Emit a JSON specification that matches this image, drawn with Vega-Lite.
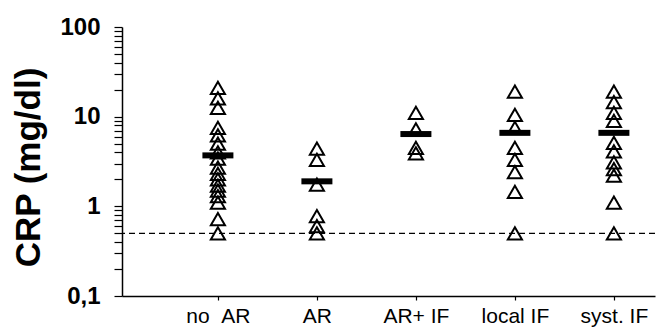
{
  "$schema": "https://vega.github.io/schema/vega-lite/v6.json",
  "width": 533,
  "height": 269,
  "autosize": "none",
  "padding": {"left": 122, "top": 27, "right": 8, "bottom": 36},
  "background": "white",
  "config": {"view": {"stroke": null}, "font": "Liberation Sans"},
  "datasets": {
    "pts": [
      {"group": "no\u00a0\u00a0AR", "crp": 21}, {"group": "no\u00a0\u00a0AR", "crp": 16}, {"group": "no\u00a0\u00a0AR", "crp": 12.5},
      {"group": "no\u00a0\u00a0AR", "crp": 7.5}, {"group": "no\u00a0\u00a0AR", "crp": 6.2}, {"group": "no\u00a0\u00a0AR", "crp": 5.0},
      {"group": "no\u00a0\u00a0AR", "crp": 4.0}, {"group": "no\u00a0\u00a0AR", "crp": 3.4}, {"group": "no\u00a0\u00a0AR", "crp": 2.7},
      {"group": "no\u00a0\u00a0AR", "crp": 2.3}, {"group": "no\u00a0\u00a0AR", "crp": 2.0}, {"group": "no\u00a0\u00a0AR", "crp": 1.7},
      {"group": "no\u00a0\u00a0AR", "crp": 1.5}, {"group": "no\u00a0\u00a0AR", "crp": 1.3}, {"group": "no\u00a0\u00a0AR", "crp": 1.1},
      {"group": "no\u00a0\u00a0AR", "crp": 0.72}, {"group": "no\u00a0\u00a0AR", "crp": 0.5},
      {"group": "AR", "crp": 4.4}, {"group": "AR", "crp": 3.3}, {"group": "AR", "crp": 1.75},
      {"group": "AR", "crp": 0.78}, {"group": "AR", "crp": 0.6}, {"group": "AR", "crp": 0.5},
      {"group": "AR+ IF", "crp": 11}, {"group": "AR+ IF", "crp": 7.2}, {"group": "AR+ IF", "crp": 4.5}, {"group": "AR+ IF", "crp": 3.9},
      {"group": "local IF", "crp": 19}, {"group": "local IF", "crp": 10.5}, {"group": "local IF", "crp": 7.5},
      {"group": "local IF", "crp": 4.5}, {"group": "local IF", "crp": 3.3}, {"group": "local IF", "crp": 2.4},
      {"group": "local IF", "crp": 1.45}, {"group": "local IF", "crp": 0.5},
      {"group": "syst. IF", "crp": 19}, {"group": "syst. IF", "crp": 14.5}, {"group": "syst. IF", "crp": 11},
      {"group": "syst. IF", "crp": 9}, {"group": "syst. IF", "crp": 5.1}, {"group": "syst. IF", "crp": 4.1},
      {"group": "syst. IF", "crp": 3.1}, {"group": "syst. IF", "crp": 2.6}, {"group": "syst. IF", "crp": 2.2},
      {"group": "syst. IF", "crp": 1.1}, {"group": "syst. IF", "crp": 0.5}
    ],
    "means": [
      {"group": "no\u00a0\u00a0AR", "crp": 3.7}, {"group": "AR", "crp": 1.9}, {"group": "AR+ IF", "crp": 6.4},
      {"group": "local IF", "crp": 6.6}, {"group": "syst. IF", "crp": 6.6}
    ],
    "ref": [{"crp": 0.5}]
  },
  "encoding": {
    "x": {
      "field": "group", "type": "nominal", "sort": null,
      "scale": {"type": "point", "domain": ["no\u00a0\u00a0AR", "AR", "AR+ IF", "local IF", "syst. IF"], "padding": 0.692, "align": 0.7},
      "axis": {
        "title": null, "labelAngle": 0, "labelFontSize": 21, "labelColor": "black",
        "labelPadding": 5, "domainColor": "black", "domainWidth": 1.5,
        "tickColor": "black", "tickSize": 4, "tickWidth": 1.2,
        "encode": {"ticks": {"update": {"y": {"value": -4}}}}
      }
    },
    "y": {
      "field": "crp", "type": "quantitative",
      "scale": {"type": "log", "domain": [0.1, 100], "nice": false},
      "axis": {
        "title": "CRP (mg/dl)", "titleFontSize": 35, "titleFontWeight": "bold", "titleColor": "black", "titlePadding": 13, "titleY": 140,
        "values": [0.1, 0.2, 0.3, 0.4, 0.5, 0.6, 0.7, 0.8, 0.9, 1, 2, 3, 4, 5, 6, 7, 8, 9, 10, 20, 30, 40, 50, 60, 70, 80, 90, 100],
        "labelExpr": "datum.value == 0.1 ? '0,1' : (indexof([1, 10, 100], datum.value) >= 0 ? datum.label : '')",
        "labelFontSize": 24, "labelFontWeight": "bold", "labelColor": "black", "labelPadding": 14,
        "domainColor": "black", "domainWidth": 1.5, "tickColor": "black", "tickWidth": 1.2, "tickSize": 8,
        "grid": false,
        "encode": {"ticks": {"update": {
          "x": {"signal": "indexof([0.1, 1, 10, 100], datum.value) >= 0 ? 10 : 0"},
          "x2": {"signal": "indexof([0.1, 1, 10, 100], datum.value) >= 0 ? -8 : 6"}
        }}}
      }
    }
  },
  "layer": [
    {
      "data": {"name": "ref"},
      "mark": {"type": "rule", "color": "black", "strokeDash": [6, 4], "strokeWidth": 1.2},
      "encoding": {"x": null}
    },
    {
      "data": {"name": "pts"},
      "mark": {"type": "point", "shape": "triangle-up", "size": 200, "filled": false, "stroke": "black", "strokeWidth": 2, "opacity": 1}
    },
    {
      "data": {"name": "means"},
      "mark": {"type": "tick", "color": "black", "size": 31, "thickness": 6, "opacity": 1}
    }
  ]
}
